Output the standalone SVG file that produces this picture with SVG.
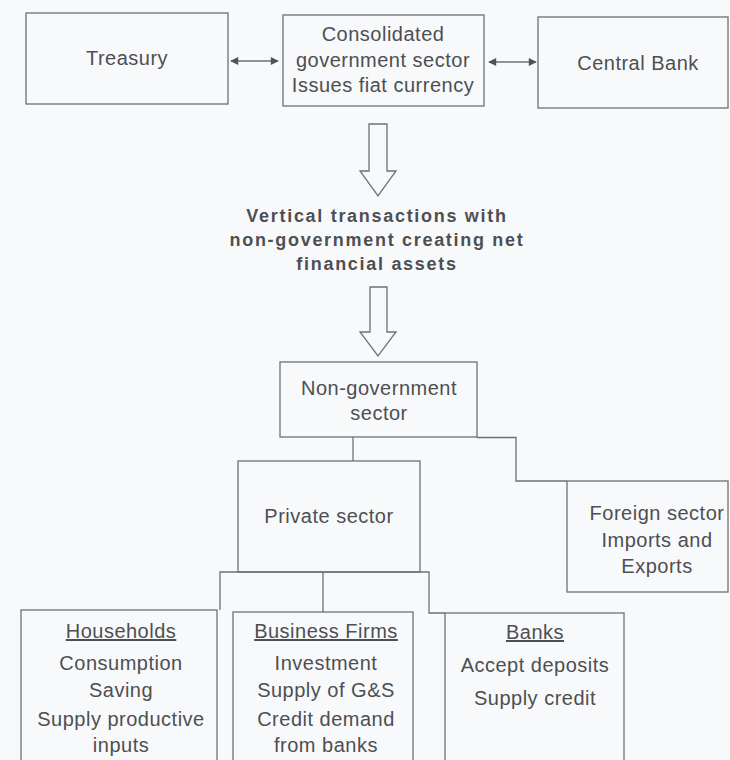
<svg xmlns="http://www.w3.org/2000/svg" width="730" height="760" viewBox="0 0 730 760">
<defs>
<style>
.box{fill:none;stroke:#6d7175;stroke-width:1.3}
.con{fill:none;stroke:#6d7175;stroke-width:1.3}
.hollow{fill:#f8f9fb;stroke:#6d7175;stroke-width:1.3;stroke-linejoin:miter}
.t{font-family:"Liberation Sans",Arial,sans-serif;font-size:20px;letter-spacing:0.5px;fill:#4d4f52;text-anchor:middle}
.b{font-family:"Liberation Sans",Arial,sans-serif;font-size:18px;font-weight:bold;letter-spacing:1.7px;fill:#4d4f52;text-anchor:middle}
.u{text-decoration:underline}
</style>
<marker id="ah" viewBox="0 0 10 10" refX="9" refY="5" markerWidth="9" markerHeight="8" markerUnits="userSpaceOnUse" orient="auto-start-reverse">
<path d="M0,0 L10,5 L0,10 z" fill="#4f5256"/>
</marker>
</defs>
<rect width="730" height="760" fill="#f8f9fb"/>

<g id="connectors">
<line class="con" x1="231" y1="61" x2="278" y2="61" marker-start="url(#ah)" marker-end="url(#ah)"/>
<line class="con" x1="489" y1="62" x2="536" y2="62" marker-start="url(#ah)" marker-end="url(#ah)"/>
<polygon class="hollow" points="369,124 387,124 387,171 396,171 378,196 360,171 369,171"/>
<polygon class="hollow" points="370,287 387,287 387,332 396,332 378,356 360,332 370,332"/>
<line class="con" x1="353" y1="437" x2="353" y2="461"/>
<path class="con" d="M477,437.5 H516 V481 H567"/>
<path class="con" d="M220,610 V572 H429 V613 H445"/>
<line class="con" x1="323" y1="572" x2="323" y2="612"/>
</g>

<g id="treasury">
<rect class="box" x="26" y="13" width="202" height="91"/>
<text class="t" x="127" y="65">Treasury</text>
</g>

<g id="consolidated">
<rect class="box" x="283" y="15" width="201" height="91"/>
<text class="t" x="383" y="41">Consolidated</text>
<text class="t" x="383" y="67">government sector</text>
<text class="t" x="383" y="92">Issues fiat currency</text>
</g>

<g id="central-bank">
<rect class="box" x="538" y="17" width="190" height="91"/>
<text class="t" x="638" y="70">Central Bank</text>
</g>

<g id="vertical-label">
<text class="b" x="377" y="222">Vertical transactions with</text>
<text class="b" x="377" y="246">non-government creating net</text>
<text class="b" x="377" y="270">financial assets</text>
</g>

<g id="non-government">
<rect class="box" x="280" y="362" width="197" height="75"/>
<text class="t" x="379" y="395">Non-government</text>
<text class="t" x="379" y="420">sector</text>
</g>

<g id="private">
<rect class="box" x="238" y="461" width="182" height="111"/>
<text class="t" x="329" y="523">Private sector</text>
</g>

<g id="foreign">
<rect class="box" x="567" y="481" width="161" height="111"/>
<text class="t" x="657" y="520">Foreign sector</text>
<text class="t" x="657" y="547">Imports and</text>
<text class="t" x="657" y="573">Exports</text>
</g>

<g id="households">
<rect class="box" x="21" y="610" width="196" height="160"/>
<text class="t u" x="121" y="638">Households</text>
<text class="t" x="121" y="670">Consumption</text>
<text class="t" x="121" y="697">Saving</text>
<text class="t" x="121" y="726">Supply productive</text>
<text class="t" x="121" y="752">inputs</text>
</g>

<g id="business">
<rect class="box" x="233" y="612" width="180" height="160"/>
<text class="t u" x="326" y="638">Business Firms</text>
<text class="t" x="326" y="670">Investment</text>
<text class="t" x="326" y="697">Supply of G&amp;S</text>
<text class="t" x="326" y="726">Credit demand</text>
<text class="t" x="326" y="752">from banks</text>
</g>

<g id="banks">
<rect class="box" x="445" y="613" width="179" height="160"/>
<text class="t u" x="535" y="639">Banks</text>
<text class="t" x="535" y="672">Accept deposits</text>
<text class="t" x="535" y="705">Supply credit</text>
</g>
</svg>
